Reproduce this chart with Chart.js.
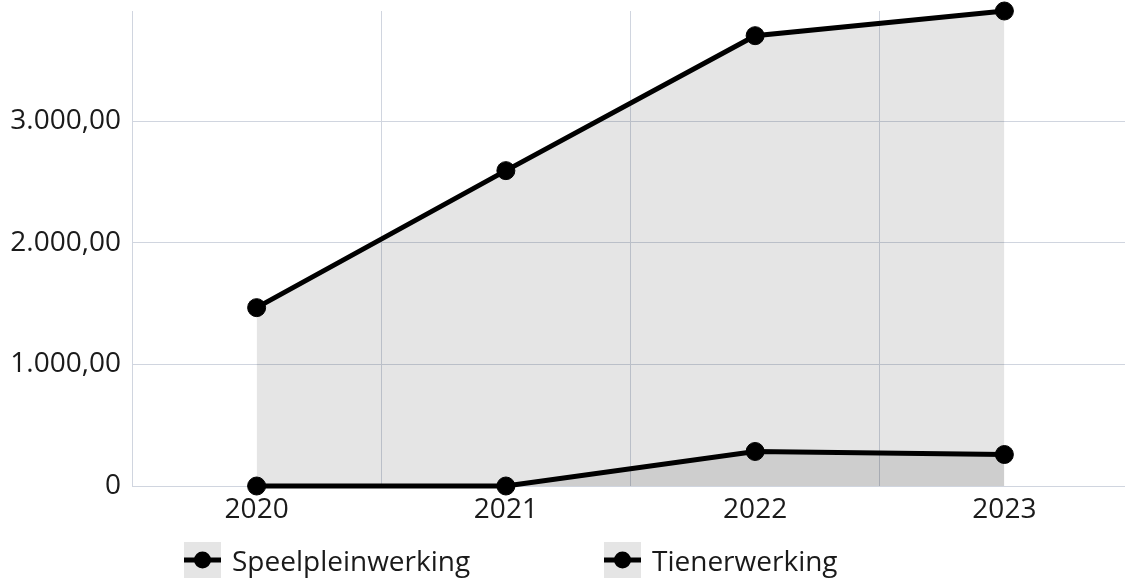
<!DOCTYPE html>
<html>
<head>
<meta charset="utf-8">
<script src="https://cdn.jsdelivr.net/npm/chart.js@4/dist/chart.umd.min.js"></script>
<style>
  html, body { margin: 0; padding: 0; background: #fff; overflow: hidden; }
  #wrap { position: relative; width: 1139px; height: 580px; }
  #legend { position: absolute; left: 184px; top: 542px; display: flex; font-family: "Open Sans", sans-serif; font-size: 28px; color: #1a1a1a; }
  .item { display: flex; align-items: center; width: 420px; height: 36px; }
  .item svg { margin-right: 11px; flex: none; }
</style>
</head>
<body>
<div id="wrap">
  <canvas id="c" width="1139" height="580"></canvas>
  <div id="legend"></div>
</div>
<script>
const categories = ['2020', '2021', '2022', '2023'];
const seriesNames = ['Speelpleinwerking', 'Tienerwerking'];
const speelpleinwerking = [1467, 2594, 3704, 3907];
const tienerwerking = [0, 0, 284, 259];
const yTickValues = [0, 1000, 2000, 3000];

function fmt(v) {
  if (v === 0) return '0';
  const parts = v.toFixed(2).split('.');
  const intPart = parts[0].replace(/\B(?=(\d{3})+(?!\d))/g, '.');
  return intPart + ',' + parts[1];
}

const fillColor = 'rgba(0,0,0,0.1)';
const gridColor = '#d0d5df';
const textColor = '#1a1a1a';
const font = { family: '"Open Sans", sans-serif', size: 28 };

function ds(label, data) {
  return {
    label, data,
    borderColor: '#000', borderWidth: 5,
    backgroundColor: fillColor, fill: 'origin',
    pointRadius: 9, pointHoverRadius: 9,
    pointBackgroundColor: '#000', pointBorderColor: '#000', pointBorderWidth: 1,
    tension: 0, clip: false
  };
}

function noPad(s) { s.paddingTop = 0; s.paddingBottom = 0; s.paddingLeft = 0; s.paddingRight = 0; }

const dataMax = Math.max(...speelpleinwerking, ...tienerwerking);

new Chart(document.getElementById('c'), {
  type: 'line',
  data: {
    labels: categories,
    datasets: [ds(seriesNames[0], speelpleinwerking), ds(seriesNames[1], tienerwerking)]
  },
  options: {
    responsive: false,
    animation: false,
    layout: { padding: { top: 11, bottom: 54, left: 0, right: 0 } },
    plugins: { legend: { display: false }, tooltip: { enabled: false } },
    scales: {
      x: {
        offset: true,
        grid: { color: gridColor, drawTicks: false, offset: true },
        border: { color: gridColor },
        ticks: { color: textColor, font, padding: 7, maxRotation: 0 },
        afterFit: s => { s.height = 40; noPad(s); }
      },
      y: {
        min: 0, max: dataMax,
        grid: { color: gridColor, drawTicks: false },
        border: { color: gridColor },
        ticks: { color: textColor, font, padding: 11, callback: v => fmt(v) },
        afterBuildTicks: s => { s.ticks = yTickValues.map(v => ({ value: v })); },
        afterFit: s => { s.width = 132; noPad(s); }
      }
    }
  }
});

const legend = document.getElementById('legend');
seriesNames.forEach(name => {
  const d = document.createElement('div');
  d.className = 'item';
  d.innerHTML = '<svg width="37" height="36" viewBox="0 0 37 36"><rect x="0" y="0" width="37" height="36" fill="rgba(0,0,0,0.1)"/>' +
    '<line x1="0" y1="18" x2="37" y2="18" stroke="#000" stroke-width="5"/>' +
    '<circle cx="18.5" cy="18" r="8.5" fill="#000"/></svg><span></span>';
  d.querySelector('span').textContent = name;
  legend.appendChild(d);
});
</script>
</body>
</html>
